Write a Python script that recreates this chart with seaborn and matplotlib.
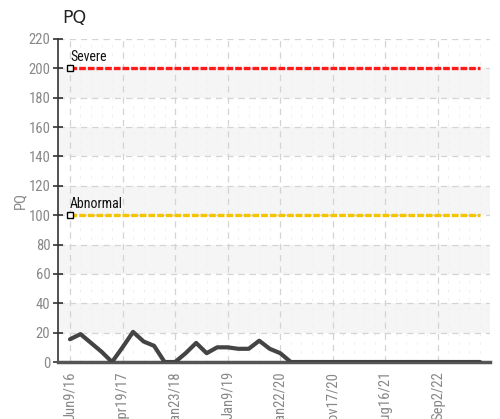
import pandas as pd
import numpy as np
import matplotlib
matplotlib.use('Agg')
import matplotlib.pyplot as plt
from matplotlib.ticker import MultipleLocator
import seaborn as sns

# Data (one value per visit, equally spaced)
pq_values = [15.5, 19, 13, 7, 0, 10, 20.5, 14, 11, 0,
             0, 6, 13, 6, 10, 10, 9, 9, 14.5, 9,
             6, 0, 0, 0, 0, 0, 0, 0, 0, 0,
             0, 0, 0, 0, 0, 0, 0, 0, 0, 0]
tick_labels = ['Jun9/16', 'Apr19/17', 'Jan23/18', 'Jan9/19',
               'Jan22/20', 'Nov17/20', 'Aug16/21', 'Sep2/22']
tick_every = 5
severe_level = 200
abnormal_level = 100

df = pd.DataFrame({'idx': np.arange(len(pq_values)), 'PQ': pq_values})

sns.set_style("white")
plt.rcParams['font.family'] = ['Roboto Condensed', 'DejaVu Sans']
plt.rcParams['font.stretch'] = 'condensed'

fig = plt.figure(figsize=(5, 4.19), dpi=100)
ax = fig.add_axes([0.116, 0.136, 0.864, 0.771])

n = len(pq_values)
ax.set_xlim(-1.14, n - 1 + 0.95)
ax.set_ylim(0, 220)

# alternating background bands
for lo in range(20, 220, 40):
    ax.axhspan(lo, lo + 20, color='#f5f5f5', zorder=0, lw=0)

# grid
ax.yaxis.set_major_locator(MultipleLocator(20))
ax.set_xticks(np.arange(0, n, tick_every))
ax.set_xticks(np.arange(0, n), minor=True)
ax.grid(True, which='major', color='#d4d4d4', linestyle=(0, (5, 4)), lw=0.9, zorder=1)
ax.grid(True, which='minor', axis='x', color='#f0f0f0', linestyle=(0, (3, 6)), lw=0.7, zorder=1)

# threshold lines
xs = df['idx']
ax.plot(xs, [severe_level] * n, color='#ff1a1a', lw=2.4, linestyle=(0, (2, 0.6)), zorder=3)
ax.plot(xs, [abnormal_level] * n, color='#f5c400', lw=2.4, linestyle=(0, (2, 0.6)), zorder=3)
ax.plot([0], [severe_level], marker='s', ms=5, mfc='white', mec='black', mew=1, zorder=5)
ax.plot([0], [abnormal_level], marker='s', ms=5, mfc='white', mec='black', mew=1, zorder=5)
ax.text(0, severe_level + 3, 'Severe', fontsize=10, color='#111111', va='bottom', ha='left')
ax.text(0, abnormal_level + 3, 'Abnormal', fontsize=10, color='#111111', va='bottom', ha='left')

# patient values
sns.lineplot(data=df, x='idx', y='PQ', ax=ax, color='#444444', lw=3, zorder=4)

ax.set_xticklabels(tick_labels, rotation=90, va='top', ha='center')
ax.tick_params(axis='x', which='major', direction='inout', length=7, width=1.2,
               colors='#333333', labelcolor='#888888', labelsize=10.5, pad=3)
ax.tick_params(axis='x', which='minor', direction='inout', length=4, width=0.8, colors='#555555')
ax.tick_params(axis='y', direction='inout', length=7, width=1.2,
               colors='#333333', labelcolor='#888888', labelsize=10.5, left=True, pad=2)

for side in ['top', 'right']:
    ax.spines[side].set_visible(False)
ax.spines['left'].set_color('#333333')
ax.spines['left'].set_linewidth(1.2)
ax.spines['bottom'].set_color('#555555')
ax.spines['bottom'].set_linewidth(2.5)

ax.set_xlabel('')
ax.set_ylabel('PQ', color='#888888', fontsize=10.5, labelpad=1)
fig.text(0.124, 0.935, 'PQ', fontsize=12.5, color='#222222', family='DejaVu Sans',
         stretch='normal', ha='left', va='bottom')

fig.savefig('out.png', dpi=100)
